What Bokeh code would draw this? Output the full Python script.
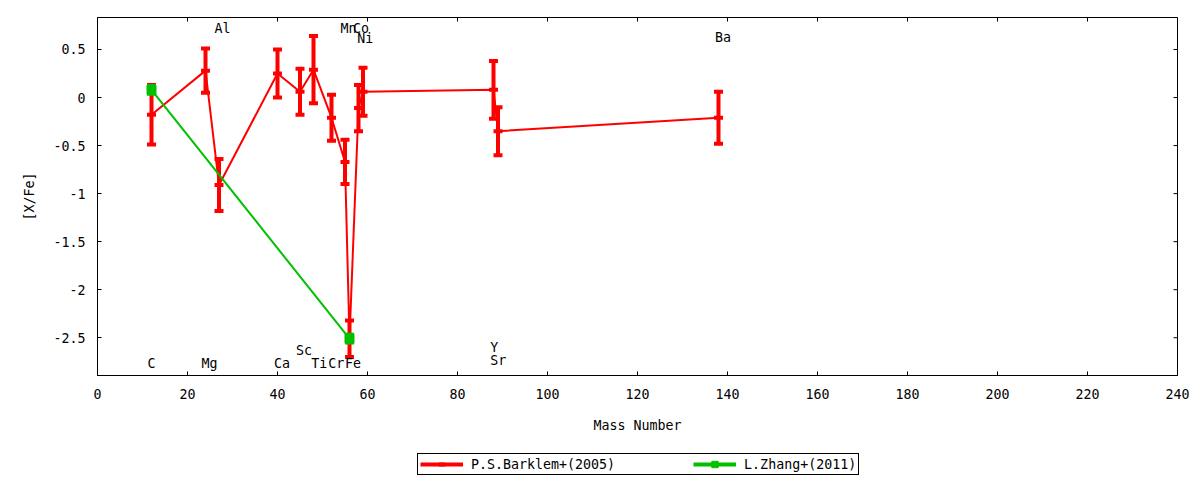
import math
from bokeh.plotting import figure
from bokeh.layouts import column
from bokeh.models import (ColumnDataSource, Range1d, FixedTicker, Legend, LegendItem)
from bokeh.core.properties import value
from bokeh.embed import file_html
from bokeh.resources import INLINE

# ---------------- data ----------------
elements = ["C", "Mg", "Al", "Ca", "Sc", "Ti", "Cr", "Mn", "Fe", "Ni", "Co", "Sr", "Y", "Ba"]
mass_number = [12, 24, 27, 40, 45, 48, 52, 55, 56, 58, 59, 88, 89, 138]
barklem_xfe = [-0.18, 0.28, -0.91, 0.25, 0.06, 0.29, -0.21, -0.67, -2.51, -0.11, 0.06, 0.08, -0.35, -0.21]
barklem_err = [0.31, 0.23, 0.27, 0.25, 0.24, 0.35, 0.24, 0.23, 0.19, 0.24, 0.25, 0.30, 0.25, 0.27]

zhang_elements = ["C", "Fe"]
zhang_mass = [12, 56]
zhang_xfe = [0.08, -2.51]
zhang_err = [0.04, 0.04]

label_text = ["C", "Mg", "Al", "Ca", "Sc", "Ti", "Cr", "Mn", "Fe", "Co", "Ni", "Sr", "Y", "Ba"]
label_x = [11.1, 23.1, 26.0, 39.2, 44.1, 47.5, 51.3, 54.0, 55.0, 56.8, 57.7, 87.3, 87.3, 137.2]
label_y = [-2.77, -2.77, 0.72, -2.77, -2.63, -2.77, -2.77, 0.72, -2.77, 0.72, 0.61, -2.74, -2.60, 0.62]

x_min, x_max = 0, 240
y_min, y_max = -2.893, 0.833
xticks = [0, 20, 40, 60, 80, 100, 120, 140, 160, 180, 200, 220, 240]
yticks = [0.5, 0, -0.5, -1, -1.5, -2, -2.5]
ytick_labels = ["0.5", "0", "-0.5", "-1", "-1.5", "-2", "-2.5"]

series_names = ["P.S.Barklem+(2005)", "L.Zhang+(2011)"]
RED = "#ff0000"
GREEN = "#00c000"
FONT = "DejaVu Sans Mono"
FS = "13.3px"

# ---------------- sources ----------------
bark = ColumnDataSource(dict(
    x=mass_number, y=barklem_xfe,
    upper=[v + e for v, e in zip(barklem_xfe, barklem_err)],
    lower=[v - e for v, e in zip(barklem_xfe, barklem_err)],
))
zh = ColumnDataSource(dict(
    x=zhang_mass, y=zhang_xfe,
    upper=[v + e for v, e in zip(zhang_xfe, zhang_err)],
    lower=[v - e for v, e in zip(zhang_xfe, zhang_err)],
))
labels = ColumnDataSource(dict(x=label_x, y=label_y, text=label_text))

# ---------------- main figure ----------------
p = figure(width=1192, height=435, output_backend="svg", toolbar_location=None,
           x_range=Range1d(x_min, x_max), y_range=Range1d(y_min, y_max),
           min_border_left=97, min_border_right=15, min_border_top=17, min_border_bottom=60,
           x_axis_label="Mass Number", y_axis_label="[X/Fe]")
p.background_fill_color = "white"
p.border_fill_color = "white"
p.outline_line_color = "black"
p.outline_line_width = 1
p.outline_line_alpha = 1
p.xgrid.visible = False
p.ygrid.visible = False

p.xaxis.ticker = FixedTicker(ticks=xticks)
p.yaxis.ticker = FixedTicker(ticks=yticks)
p.yaxis.major_label_overrides = {t: l for t, l in zip(yticks, ytick_labels)}

for ax in (p.xaxis[0], p.yaxis[0]):
    ax.major_tick_in = 4
    ax.major_tick_out = 0
    ax.minor_tick_in = 0
    ax.minor_tick_out = 0
    ax.axis_line_color = "black"
    ax.major_tick_line_color = "black"
    ax.major_label_text_font = FONT
    ax.major_label_text_font_size = FS
    ax.major_label_text_color = "black"
    ax.axis_label_text_font = FONT
    ax.axis_label_text_font_size = FS
    ax.axis_label_text_font_style = "normal"
    ax.axis_label_text_color = "black"
p.xaxis.major_label_standoff = 13
p.xaxis.axis_label_standoff = 16
p.yaxis.major_label_standoff = 12
p.yaxis.axis_label_standoff = 13

# mirrored inward ticks on the top and right borders (clipped to the frame)
p.scatter(xticks, [y_max] * len(xticks), marker="dash", angle=math.pi / 2, size=8,
          line_color="black", line_width=1)
p.scatter([x_max] * len(yticks), yticks, marker="dash", size=8,
          line_color="black", line_width=1)

# ---------------- Barklem (red) ----------------
p.line("x", "y", source=bark, line_color=RED, line_width=2)
p.segment(x0="x", y0="lower", x1="x", y1="upper", source=bark, line_color=RED, line_width=4)
p.scatter("x", "upper", source=bark, marker="dash", size=9, line_color=RED, line_width=4)
p.scatter("x", "lower", source=bark, marker="dash", size=9, line_color=RED, line_width=4)
p.scatter("x", "y", source=bark, marker="dash", size=9, line_color=RED, line_width=4)

# ---------------- Zhang (green) ----------------
p.line("x", "y", source=zh, line_color=GREEN, line_width=2)
p.segment(x0="x", y0="lower", x1="x", y1="upper", source=zh, line_color=GREEN, line_width=4)
p.scatter("x", "upper", source=zh, marker="dash", size=9, line_color=GREEN, line_width=4)
p.scatter("x", "lower", source=zh, marker="dash", size=9, line_color=GREEN, line_width=4)
p.scatter("x", "y", source=zh, marker="square", size=9, line_color=GREEN,
          fill_color=GREEN, line_width=1)

# ---------------- element labels ----------------
p.text(x="x", y="y", text="text", source=labels, text_font=value(FONT),
       text_font_size=FS, text_align="left", text_baseline="middle", text_color="black")

# ---------------- legend strip (its own small plot; series drawn out of its view) ----------------
lg = figure(width=1192, height=45, output_backend="svg", toolbar_location=None,
            x_range=Range1d(0, 1), y_range=Range1d(0, 1),
            x_axis_location=None, y_axis_location=None, min_border=0)
lg.outline_line_color = None
lg.grid.visible = False
lg.background_fill_color = "white"
lg.border_fill_color = "white"
lr_line = lg.line("x", "y", source=bark, line_color=RED, line_width=4)
lr_pt = lg.scatter("x", "y", source=bark, marker="dash", size=9, angle=math.pi / 2,
                   line_color=RED, line_width=4)
lgr_line = lg.line("x", "y", source=zh, line_color=GREEN, line_width=4)
lgr_pt = lg.scatter("x", "y", source=zh, marker="square", size=9,
                    line_color=GREEN, fill_color=GREEN)
legend = Legend(items=[LegendItem(label=series_names[0], renderers=[lr_line, lr_pt]),
                       LegendItem(label=series_names[1], renderers=[lgr_line, lgr_pt])],
                location=(320, 5), orientation="horizontal",
                border_line_color="black", border_line_width=1, border_line_alpha=1,
                background_fill_color="white", background_fill_alpha=1,
                label_text_font=FONT, label_text_font_size=FS, label_text_color="black",
                padding=2, margin=0, glyph_height=16, label_height=16, glyph_width=43,
                label_standoff=8, spacing=78)
lg.add_layout(legend)

layout = column(p, lg, spacing=0)
open("out.html", "w").write(file_html(layout, INLINE))
